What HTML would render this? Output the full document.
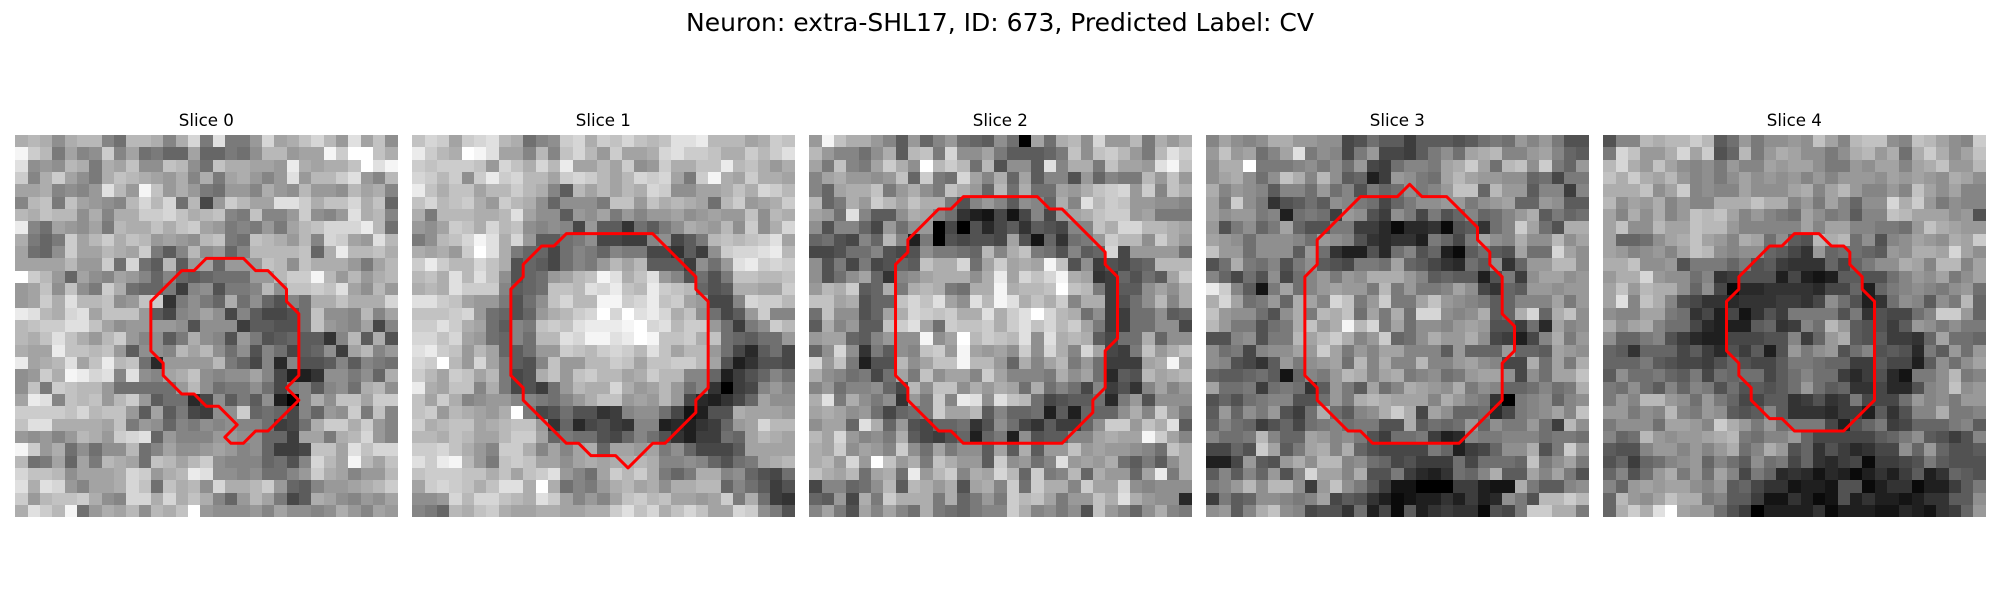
<!DOCTYPE html>
<html><head><meta charset="utf-8"><title>Neuron slices</title>
<style>html,body{margin:0;padding:0;background:#fff}svg{display:block}text{font-family:"DejaVu Sans","Liberation Sans",sans-serif;fill:#000}</style>
</head><body>
<svg id="fig" xmlns="http://www.w3.org/2000/svg" width="2000" height="600" viewBox="0 0 2000 600">
<rect width="2000" height="600" fill="#fff"/>
<text x="1000" y="31" font-size="25" text-anchor="middle">Neuron: extra-SHL17, ID: 673, Predicted Label: CV</text>
</svg>
<script>
const sliceLabels = ["Slice 0","Slice 1","Slice 2","Slice 3","Slice 4"];
const slice0 = [
[17,18,17,14,17,18,18,13,11,18,18,17,13,17,21,12,22,12,12,15,21,16,17,19,21,18,15,22,16,19,14],
[24,20,18,12,16,13,14,20,13,16,11,12,10,10,16,10,10,12,11,14,18,18,15,16,16,24,20,25,25,19,17],
[22,14,15,14,18,17,12,17,16,19,14,14,19,18,14,11,19,17,17,16,16,15,23,17,16,17,17,19,25,22,24],
[20,13,17,20,16,14,12,17,19,18,17,16,15,17,13,17,12,16,17,15,13,15,22,15,18,18,20,22,15,13,18],
[16,16,17,13,14,13,15,22,18,15,24,19,15,17,15,12,11,15,15,13,17,15,14,18,15,15,14,18,16,17,13],
[13,18,19,12,19,16,15,14,13,18,21,18,21,11,18,7,15,20,18,16,16,22,22,20,17,19,19,21,17,19,10],
[18,17,19,18,18,14,17,13,17,17,20,20,21,19,17,18,19,13,12,19,13,13,15,20,14,13,15,22,17,18,13],
[23,13,11,16,15,14,16,12,18,17,17,19,17,19,20,16,15,12,13,12,15,12,16,18,19,21,21,21,23,18,11],
[17,12,10,12,20,16,18,20,17,19,18,15,16,15,14,18,19,12,11,19,18,17,15,18,13,21,20,16,15,22,18],
[16,11,10,14,20,16,16,18,17,16,20,12,9,13,18,14,15,10,13,18,18,18,18,19,10,17,23,18,18,19,17],
[16,16,16,16,18,15,15,20,11,21,11,9,18,9,15,16,10,15,15,15,19,18,14,19,17,17,17,15,12,16,18],
[25,20,18,15,10,16,14,13,16,15,13,10,13,10,9,10,11,11,11,15,15,18,20,20,24,18,15,18,15,17,18],
[15,16,19,14,19,14,12,20,17,11,10,10,12,6,13,14,8,12,12,13,18,14,19,19,20,19,22,16,14,18,15],
[15,16,20,17,22,18,18,19,14,15,19,20,5,12,14,12,10,17,11,14,10,8,13,11,17,17,19,17,17,17,21],
[23,22,18,17,21,22,16,19,19,19,15,9,7,13,14,16,14,7,13,9,7,7,8,11,19,14,14,13,18,13,16],
[18,19,20,20,22,22,19,16,14,15,15,15,15,14,8,14,14,14,6,9,9,8,8,11,19,15,14,13,16,7,13],
[18,17,19,22,19,17,15,18,20,15,13,14,9,12,17,14,13,8,15,12,8,9,10,9,9,5,13,18,9,17,8],
[17,16,16,23,19,19,18,19,15,9,14,14,13,18,16,18,14,11,14,8,13,11,7,9,10,14,6,16,18,13,15],
[23,16,17,18,22,16,19,23,18,19,11,4,15,15,15,15,18,12,10,7,13,4,13,8,8,9,13,9,13,12,11],
[14,15,20,17,24,23,21,22,13,22,14,13,16,17,19,14,13,14,14,16,13,7,3,3,5,14,14,12,14,10,17],
[14,19,12,20,19,18,18,15,11,11,11,11,11,15,18,14,11,12,12,14,11,7,12,13,9,13,14,11,17,18,14],
[16,23,22,13,19,18,19,15,18,20,15,9,11,11,4,7,14,9,12,9,14,3,0,13,17,14,19,19,16,20,20],
[20,20,20,20,19,21,18,19,19,15,9,16,9,12,7,6,14,14,20,10,11,10,7,13,10,15,14,20,12,19,13],
[19,22,22,17,17,17,17,16,19,12,15,14,10,13,12,14,13,14,13,13,11,6,7,11,17,20,20,17,20,15,13],
[15,14,15,13,15,18,17,15,20,21,22,10,15,13,13,13,15,15,14,14,10,10,6,16,16,12,17,18,21,15,13],
[24,20,15,17,11,14,11,14,14,18,11,13,16,14,14,15,16,15,13,14,10,6,6,7,19,19,16,22,19,21,21],
[18,11,12,16,10,16,12,18,17,16,11,19,18,16,18,20,14,13,13,13,10,11,8,13,21,18,16,24,18,16,19],
[21,19,19,18,14,16,16,16,17,21,20,15,17,18,23,22,14,14,13,14,11,11,13,15,20,17,16,13,15,15,18],
[22,17,22,21,15,13,16,16,17,21,19,11,19,17,18,14,21,17,17,18,20,15,10,9,13,15,15,16,17,18,20],
[20,15,18,19,19,20,17,14,13,21,21,17,21,17,19,17,13,10,15,18,16,12,7,9,17,16,14,13,15,14,16],
[17,22,20,18,24,11,15,17,16,18,14,18,17,19,25,15,14,14,14,15,13,16,14,14,13,14,17,15,13,16,15]
];
const slice1 = [
[19,21,20,16,20,21,22,18,17,11,13,14,20,21,17,20,19,21,19,18,19,22,22,23,18,18,18,16,17,20,19],
[23,20,18,17,25,24,22,16,16,13,18,13,19,21,18,15,20,16,16,17,21,22,20,20,19,17,17,20,18,20,22],
[20,19,20,20,20,19,15,21,19,17,21,18,23,16,16,18,16,20,14,15,20,17,17,19,19,23,18,19,17,15,17],
[21,20,18,20,14,20,23,20,21,18,18,16,20,21,20,18,16,18,21,20,21,16,12,20,24,17,16,20,17,17,16],
[23,19,17,19,19,16,18,18,20,18,17,13,9,18,16,18,16,18,17,21,20,14,14,16,16,17,19,17,21,20,18],
[19,21,18,19,20,17,15,20,18,17,14,10,14,14,14,12,19,19,15,19,17,18,17,16,11,18,20,15,16,17,20],
[17,12,18,18,18,17,17,18,22,16,14,14,9,15,14,16,12,15,13,15,15,16,14,15,16,15,15,19,14,18,17],
[15,14,16,20,19,17,21,18,19,14,13,14,13,7,15,9,9,5,11,9,12,14,17,16,15,18,14,20,14,17,21],
[12,14,18,19,21,24,22,17,21,15,9,9,11,12,14,7,7,6,6,13,14,7,9,12,18,19,18,19,20,22,16],
[17,16,17,15,20,25,22,17,12,10,10,7,11,13,12,10,13,12,12,7,7,5,9,6,14,20,21,21,22,23,18],
[20,23,20,18,18,21,19,17,8,10,9,7,11,13,12,15,18,16,18,9,9,9,6,14,11,15,22,23,20,21,20],
[18,19,17,22,18,22,19,14,8,10,11,15,16,18,19,24,22,17,19,22,15,13,8,11,8,12,19,19,18,18,19],
[17,18,17,22,20,20,20,13,9,10,11,19,19,18,22,21,23,19,18,23,20,19,18,10,8,9,17,17,16,16,20],
[22,22,20,19,16,15,15,12,8,11,14,19,21,18,18,24,24,20,21,23,19,20,16,15,7,7,13,21,20,20,18],
[19,19,19,20,21,15,11,10,8,10,15,17,18,20,21,25,21,25,22,23,21,17,19,14,11,7,9,15,20,13,13],
[20,20,22,20,17,16,11,9,13,12,19,20,19,22,23,23,23,24,25,21,22,18,20,20,15,11,6,12,14,20,18],
[21,21,19,21,16,15,11,10,13,11,18,18,22,21,24,24,22,23,25,24,19,19,20,17,19,11,10,9,11,11,15],
[22,23,20,19,15,18,16,10,9,11,15,15,20,19,18,20,21,20,18,22,19,16,18,18,15,11,7,4,9,11,7],
[21,20,25,18,15,21,16,12,9,8,13,19,15,15,18,18,20,19,16,19,19,20,20,18,16,8,3,5,8,8,7],
[20,18,16,20,19,16,18,12,7,8,17,19,15,19,20,18,18,16,17,20,18,18,13,13,10,3,6,8,10,13,11],
[23,17,16,19,19,13,17,12,7,8,6,11,15,18,17,17,21,17,15,16,18,15,11,13,5,0,6,7,13,15,13],
[19,16,20,17,13,14,15,15,13,13,12,11,13,15,17,19,19,15,16,15,18,15,7,4,3,5,7,10,16,14,14],
[19,20,15,18,17,16,15,17,25,12,7,8,11,8,8,5,6,13,14,14,11,7,2,3,8,8,17,16,16,16,15],
[20,17,18,19,19,16,17,18,19,19,15,5,10,4,7,8,6,5,13,13,3,4,3,5,6,10,15,16,21,18,18],
[18,18,17,19,18,16,16,18,20,20,16,10,12,11,11,8,7,10,13,11,8,5,3,6,6,11,10,16,18,17,16],
[20,20,21,19,17,15,13,20,20,17,13,16,13,16,17,10,16,16,15,16,12,14,10,7,7,7,9,16,16,16,16],
[22,20,23,24,18,15,12,19,20,19,16,16,14,16,17,16,17,17,18,17,13,13,14,13,10,8,11,12,16,17,18],
[19,20,20,20,19,19,17,19,16,19,20,22,15,13,11,16,20,18,20,17,12,10,12,17,17,13,14,10,8,7,11],
[16,20,21,20,19,17,19,22,22,17,25,17,11,13,12,15,17,18,16,17,14,17,17,18,18,10,13,11,9,6,8],
[14,14,15,21,18,21,21,19,18,17,22,20,16,13,15,13,16,19,20,18,19,16,16,15,16,20,12,17,11,6,5],
[13,12,10,18,17,19,20,17,16,16,17,17,16,16,17,17,20,22,19,21,17,19,21,19,16,16,21,20,14,12,8]
];
const slice2 = [
[15,24,19,17,17,15,13,9,15,10,13,15,11,10,9,14,11,0,16,11,17,18,14,21,15,15,18,12,17,15,17],
[18,15,13,13,11,14,17,9,18,19,12,21,14,14,16,12,9,9,9,10,12,19,14,19,20,18,15,12,18,22,20],
[16,12,19,13,12,16,20,17,14,25,18,20,18,11,18,8,14,14,9,22,13,17,17,12,19,16,16,15,22,24,19],
[13,16,17,15,15,14,15,19,10,20,12,11,21,16,13,17,10,16,9,13,13,8,15,10,13,12,12,18,15,19,15],
[13,10,16,17,17,19,12,15,17,14,12,19,17,15,10,18,11,17,11,11,16,15,17,19,20,21,15,20,13,19,17],
[18,10,12,17,15,20,18,16,19,17,17,12,8,13,15,13,9,14,13,10,17,13,22,18,20,19,15,15,14,14,13],
[16,15,11,22,13,9,9,14,17,16,13,11,5,3,2,7,2,7,13,7,15,16,17,19,20,20,15,16,12,12,12],
[14,8,13,13,10,7,15,11,14,15,0,7,0,8,4,7,9,5,9,8,7,13,13,19,17,21,21,18,18,17,16],
[10,11,8,7,13,10,18,13,3,12,0,8,7,8,8,7,16,8,2,10,5,11,12,15,20,18,18,14,20,17,15],
[7,7,8,11,11,13,8,7,8,14,12,12,11,10,18,13,17,19,12,11,8,13,9,10,21,7,15,15,15,15,11],
[14,8,12,7,12,7,8,10,9,19,17,17,21,11,16,20,16,17,16,24,19,8,14,6,8,7,9,10,18,18,18],
[14,8,11,14,16,10,5,13,14,16,17,17,17,14,17,23,16,21,19,21,24,17,16,5,6,10,8,11,9,16,20],
[15,18,17,20,9,10,17,12,17,18,17,12,11,17,17,24,17,18,18,19,25,19,18,12,6,9,9,14,16,14,17],
[19,19,16,17,8,10,10,19,21,19,22,16,14,22,18,24,22,17,19,17,20,13,17,17,6,8,11,14,18,13,17],
[11,19,14,14,8,10,16,17,21,20,19,20,17,17,22,17,20,22,25,21,18,17,11,14,6,6,11,11,14,9,10],
[9,17,13,15,9,9,19,20,22,16,11,20,19,19,20,17,20,22,19,21,18,20,16,12,6,6,11,11,14,14,7],
[15,16,16,10,9,13,15,14,14,24,14,16,25,18,20,19,18,22,14,22,17,18,17,9,7,11,11,17,10,14,14],
[10,14,21,14,5,12,9,14,13,19,20,15,24,16,15,16,14,20,14,21,17,13,21,16,7,6,12,19,15,17,19],
[21,15,19,12,3,8,8,18,14,16,19,19,24,18,18,15,10,17,13,16,18,12,15,11,6,6,6,16,17,24,16],
[17,14,13,11,12,7,11,16,12,19,14,16,16,13,20,16,13,13,13,12,17,14,16,11,4,9,8,18,16,17,18],
[13,15,11,13,13,14,10,7,18,14,19,19,14,17,15,17,16,11,17,11,13,11,7,13,6,8,5,13,16,13,15],
[17,22,12,17,14,12,14,5,15,12,20,13,23,22,14,22,19,18,11,7,8,9,9,11,4,12,15,8,14,14,14],
[16,17,16,14,15,11,7,10,11,12,20,16,16,18,9,13,10,10,11,3,9,3,10,10,10,14,17,13,20,15,12],
[14,16,16,10,22,17,10,15,8,7,10,10,11,5,8,14,11,7,5,9,6,6,10,14,20,20,15,19,17,22,9],
[18,16,21,15,13,14,12,17,9,7,6,8,10,3,10,12,3,14,8,9,9,13,13,16,17,16,16,24,20,16,13],
[17,16,20,14,16,15,13,20,14,11,16,12,14,14,9,16,9,17,9,15,15,19,15,16,15,15,14,13,11,19,17],
[17,18,15,21,15,25,19,15,17,12,19,17,15,15,9,20,14,15,11,13,22,15,16,15,17,11,9,12,9,14,17],
[19,17,16,18,11,16,17,11,23,15,18,20,13,17,16,21,18,10,20,12,13,18,10,17,15,15,10,16,23,12,17],
[7,13,13,10,11,14,18,9,18,17,15,17,8,16,17,13,20,11,20,17,17,13,20,16,16,21,14,13,14,14,14],
[10,9,15,7,17,12,20,17,17,17,12,17,10,12,15,12,20,18,19,16,12,15,15,19,17,22,17,15,14,14,4],
[13,16,12,8,16,13,16,13,11,17,12,11,10,12,13,13,20,17,13,14,12,14,8,19,15,13,10,14,17,13,12]
];
const slice3 = [
[13,16,14,13,14,17,17,15,15,14,14,7,8,11,9,9,6,9,9,9,8,9,11,12,11,15,13,15,12,8,8],
[15,19,15,16,11,13,16,22,12,14,13,7,12,15,7,7,6,9,12,14,11,16,17,18,13,13,15,16,13,10,9],
[14,17,17,25,12,12,12,13,14,12,14,11,15,7,6,11,13,13,12,16,17,20,16,11,18,19,14,20,12,10,15],
[14,16,17,14,11,14,19,17,13,18,14,9,10,3,6,15,14,12,11,16,18,16,15,15,14,14,10,11,7,12,12],
[17,13,15,14,13,9,13,13,11,15,11,13,8,12,10,11,14,12,13,15,19,19,10,18,15,15,9,13,13,6,13],
[16,12,20,14,12,5,8,9,11,9,14,13,12,11,7,10,12,14,14,15,15,12,14,15,16,10,10,15,14,9,9],
[16,14,15,15,12,13,3,11,12,11,6,15,14,8,6,14,12,7,12,8,10,13,10,11,13,15,17,9,12,10,11],
[15,8,12,14,10,12,16,10,8,8,12,12,6,6,4,1,4,4,5,1,8,9,5,11,13,20,16,11,8,17,17],
[16,15,14,11,14,14,14,13,11,15,14,13,8,5,4,5,5,3,12,10,7,12,16,14,13,17,14,14,18,14,16],
[19,15,15,11,14,14,14,9,15,11,5,3,3,8,4,11,13,8,10,3,1,9,11,9,8,16,11,11,21,16,14],
[8,11,17,12,11,13,8,12,14,9,8,7,12,12,11,16,10,9,7,5,4,11,9,14,5,10,15,15,18,18,14],
[13,10,7,11,8,14,7,11,13,15,12,15,14,17,17,17,15,13,9,10,9,9,3,8,12,6,14,16,16,14,15],
[23,20,13,9,2,12,16,11,13,15,16,15,15,12,18,12,15,12,12,13,16,14,7,5,10,9,15,15,14,15,15],
[17,21,16,11,12,15,10,17,16,13,21,19,12,15,20,12,12,16,19,15,14,13,12,9,10,13,13,13,16,12,15],
[19,15,14,14,11,8,14,17,12,18,17,19,11,16,12,17,11,21,21,14,13,14,17,9,10,17,21,10,17,19,14],
[18,15,12,12,8,11,12,17,19,15,17,24,18,21,12,16,11,14,14,13,15,16,15,8,8,6,11,4,16,13,14],
[8,8,13,14,8,12,12,18,16,18,20,17,13,15,20,10,11,14,17,15,15,17,14,7,6,3,7,13,17,12,15],
[14,11,12,7,13,14,14,16,15,20,16,12,15,13,16,16,13,13,13,9,15,10,10,10,15,10,10,9,16,15,14],
[14,13,8,7,5,9,15,12,14,15,16,11,18,13,17,13,13,18,13,13,15,16,14,13,7,7,17,11,16,12,17],
[10,9,9,10,11,9,2,10,13,12,15,18,17,13,16,17,12,13,14,11,12,15,16,16,14,7,14,11,16,16,19],
[16,11,11,12,6,11,12,11,5,9,15,12,9,16,11,13,17,16,15,14,17,12,14,13,10,10,11,13,11,12,17],
[8,10,8,11,12,13,13,8,8,11,15,12,17,18,17,16,16,16,13,17,15,13,12,5,0,12,13,14,10,13,14],
[9,15,10,14,12,15,8,6,11,17,11,9,13,14,17,20,17,7,16,14,10,10,11,4,7,12,13,14,16,13,19],
[10,13,11,10,6,8,10,7,11,12,13,11,12,12,8,8,17,9,11,10,11,15,10,14,12,12,15,11,6,18,14],
[13,11,11,12,18,13,10,10,16,15,13,14,12,8,6,11,11,12,6,3,4,13,12,12,13,13,13,11,12,12,11],
[7,7,10,8,20,16,9,12,16,17,13,17,10,8,7,7,7,7,12,10,3,6,7,10,14,14,17,8,12,20,15],
[3,3,7,15,9,8,15,17,14,18,18,13,14,11,10,7,8,6,6,6,11,7,11,11,11,10,19,12,14,16,12],
[9,13,9,13,10,15,8,13,21,16,16,13,17,8,8,12,6,4,3,5,11,10,13,17,9,9,16,13,16,12,8],
[12,13,15,18,14,18,18,14,6,15,19,14,12,9,6,2,2,0,0,0,6,6,3,2,2,17,12,9,9,13,14],
[6,12,9,10,14,14,13,12,13,16,7,9,8,5,3,1,2,3,3,5,3,6,3,4,14,12,8,18,18,20,18],
[14,15,9,13,17,19,14,13,7,8,8,5,11,3,7,1,9,3,5,6,5,5,1,8,7,12,20,20,17,17,12]
];
const slice4 = [
[8,13,13,18,17,18,18,20,18,9,11,15,12,14,14,15,14,19,16,13,18,19,19,14,13,19,18,16,14,13,20],
[12,21,19,15,15,17,21,16,20,8,10,18,12,15,17,16,14,14,12,14,17,18,15,17,11,17,20,17,14,16,19],
[18,21,17,15,19,16,14,13,14,12,15,13,13,16,15,16,16,14,12,12,15,14,16,16,13,16,17,19,15,15,18],
[19,17,20,17,16,18,15,13,14,12,14,16,14,15,14,15,13,15,13,15,15,15,14,16,15,16,15,14,17,16,14],
[17,17,17,19,14,16,20,13,14,13,13,16,14,14,14,16,17,13,16,18,15,13,13,15,13,19,16,14,16,13,13],
[18,14,16,15,17,13,15,13,13,17,17,17,19,17,17,13,15,12,16,13,10,14,14,21,17,20,15,12,14,13,13],
[16,13,17,14,17,13,15,19,18,19,16,13,15,13,12,11,16,14,12,13,9,13,13,19,18,16,16,16,14,15,8],
[16,19,14,14,18,16,16,19,18,18,15,13,13,13,13,13,16,13,16,16,13,13,12,12,11,15,19,17,16,15,15],
[16,10,10,11,14,16,17,19,16,15,13,17,16,11,14,9,8,18,17,18,11,14,8,13,14,16,15,14,17,16,20],
[16,15,13,14,15,13,16,19,18,14,13,14,14,10,9,7,5,15,10,11,11,10,9,15,14,17,17,16,21,16,14],
[17,17,19,14,14,15,8,12,12,12,10,12,8,9,6,5,5,5,10,7,10,12,14,14,17,16,13,18,18,13,16],
[15,17,17,21,15,14,14,11,13,5,6,8,8,8,3,7,3,2,3,9,9,8,8,11,13,15,14,16,12,14,16],
[16,19,15,18,17,17,14,10,14,7,1,4,4,5,5,5,5,4,7,7,10,3,10,12,13,14,13,12,14,15,11],
[16,22,13,19,17,13,8,7,5,5,4,5,5,5,6,6,5,7,14,11,8,3,5,11,14,13,9,14,12,18,10],
[14,13,13,16,16,12,11,5,7,3,7,2,5,8,6,12,12,12,12,8,12,5,8,7,7,11,13,20,20,15,10],
[17,14,16,17,13,11,11,7,4,3,3,3,9,10,5,6,13,11,18,15,9,8,8,6,9,15,14,12,14,12,12],
[14,10,10,12,13,8,6,4,3,3,7,7,7,8,8,13,6,10,15,17,9,8,9,6,6,5,10,16,11,11,10],
[10,9,5,10,10,10,7,9,6,4,8,6,9,3,8,15,12,14,15,8,11,13,8,9,8,4,12,9,15,11,15],
[10,10,10,12,9,8,7,7,6,8,10,8,7,7,9,12,12,11,10,10,6,6,9,7,7,3,9,14,11,14,16],
[9,14,11,11,12,10,9,12,7,11,10,11,11,7,9,11,13,11,11,6,4,6,8,4,2,12,12,14,18,12,13],
[12,11,14,11,9,13,10,13,12,8,11,8,9,8,9,11,15,11,9,10,5,5,7,4,4,8,13,14,19,14,15],
[12,15,13,18,18,15,14,11,15,12,10,7,7,9,9,5,6,8,5,6,12,7,7,7,11,15,13,14,12,15,15],
[15,15,12,14,13,18,13,12,15,14,9,8,9,13,9,5,5,5,4,6,6,3,9,5,8,13,13,17,12,12,13],
[12,14,14,14,11,16,16,15,13,20,17,15,12,15,11,12,12,12,7,3,8,10,12,6,7,10,10,10,12,13,9],
[13,10,11,18,15,14,15,15,16,17,18,12,11,13,13,15,10,7,7,7,7,7,9,10,12,14,9,8,6,8,13],
[9,8,8,13,15,15,13,15,13,15,17,11,13,17,15,8,10,5,8,6,4,5,7,7,14,10,15,10,8,8,9],
[8,10,6,10,11,13,14,15,10,13,11,9,14,11,12,7,10,5,4,6,7,1,6,6,7,8,12,9,8,8,8],
[10,13,8,11,15,17,12,15,11,16,13,7,12,10,4,5,4,2,4,3,1,3,5,3,6,9,3,5,10,9,8],
[13,10,15,16,15,16,16,14,13,15,9,10,7,5,5,2,3,3,2,8,8,1,3,5,5,1,3,3,6,9,12],
[10,18,15,14,16,19,17,17,12,13,9,9,6,2,2,5,3,1,2,8,3,5,3,3,2,3,5,5,9,9,14],
[10,17,20,17,22,25,16,15,15,11,8,6,0,3,3,3,3,5,1,3,3,3,2,2,4,3,2,5,6,10,15]
];
const sliceValues = [slice0, slice1, slice2, slice3, slice4];
const contour0 = [[15.5,10],[18.5,10],[19.5,11],[20.5,11],[22,12.5],[22,13.5],[23,14.5],[23,19.5],[22,20.5],[23,21.5],[20.5,24],[19.5,24],[18.5,25],[17.5,25],[17,24.5],[18,23.5],[16.5,22],[15.5,22],[14.5,21],[13.5,21],[12,19.5],[12,18.5],[11,17.5],[11,13.5],[13.5,11],[14.5,11]];
const contour1 = [[12.5,8],[19.5,8],[23,11.5],[23,12.5],[24,13.5],[24,20.5],[23,21.5],[23,22.5],[20.5,25],[19.5,25],[17.5,27],[16.5,26],[14.5,26],[13.5,25],[12.5,25],[9,21.5],[9,20.5],[8,19.5],[8,12.5],[9,11.5],[9,10.5],[10.5,9],[11.5,9]];
const contour2 = [[12.5,5],[18.5,5],[19.5,6],[20.5,6],[24,9.5],[24,10.5],[25,11.5],[25,16.5],[24,17.5],[24,20.5],[23,21.5],[23,22.5],[20.5,25],[12.5,25],[11.5,24],[10.5,24],[8,21.5],[8,20.5],[7,19.5],[7,10.5],[8,9.5],[8,8.5],[10.5,6],[11.5,6]];
const contour3 = [[12.5,5],[15.5,5],[16.5,4],[17.5,5],[19.5,5],[22,7.5],[22,8.5],[23,9.5],[23,10.5],[24,11.5],[24,14.5],[25,15.5],[25,17.5],[24,18.5],[24,21.5],[20.5,25],[13.5,25],[12.5,24],[11.5,24],[9,21.5],[9,20.5],[8,19.5],[8,11.5],[9,10.5],[9,8.5]];
const contour4 = [[15.5,8],[17.5,8],[18.5,9],[19.5,9],[20,9.5],[20,10.5],[21,11.5],[21,12.5],[22,13.5],[22,21.5],[19.5,24],[15.5,24],[14.5,23],[13.5,23],[12,21.5],[12,20.5],[11,19.5],[11,18.5],[10,17.5],[10,13.5],[11,12.5],[11,11.5],[13.5,9],[14.5,9]];
const contours = [contour0, contour1, contour2, contour3, contour4];

const NS = "http://www.w3.org/2000/svg";
const fig = document.getElementById("fig");
const panelLeft = i => 15.2 + 397 * i;
const panelTop = 135, panelSize = 382.3, gridSize = 31, valueMax = 25;
const xScale = (i, v) => panelLeft(i) + v / gridSize * panelSize;
const yScale = v => panelTop + v / gridSize * panelSize;
const grayScale = v => { const g = Math.round(v / valueMax * 255); return "rgb(" + g + "," + g + "," + g + ")"; };

sliceValues.forEach((rows, i) => {
  const g = document.createElementNS(NS, "g");
  
  
  g.setAttribute("shape-rendering", "crispEdges");
  rows.forEach((row, r) => {
    row.forEach((v, c) => {
      const cell = document.createElementNS(NS, "rect");
      const x0 = Math.round(xScale(i, c)), x1 = Math.round(xScale(i, c + 1));
      const y0 = Math.round(yScale(r)), y1 = Math.round(yScale(r + 1));
      cell.setAttribute("x", x0);
      cell.setAttribute("y", y0);
      cell.setAttribute("width", x1 - x0);
      cell.setAttribute("height", y1 - y0);
      cell.setAttribute("fill", grayScale(v));
      
      
      g.appendChild(cell);
    });
  });
  fig.appendChild(g);

  const title = document.createElementNS(NS, "text");
  title.setAttribute("x", panelLeft(i) + panelSize / 2);
  title.setAttribute("y", 126);
  title.setAttribute("font-size", "16.67");
  title.setAttribute("text-anchor", "middle");
  
  
  title.textContent = sliceLabels[i];
  fig.appendChild(title);

  const line = document.createElementNS(NS, "polygon");
  line.setAttribute("points", contours[i].map(p => xScale(i, p[0]).toFixed(2) + "," + yScale(p[1]).toFixed(2)).join(" "));
  line.setAttribute("fill", "none");
  line.setAttribute("stroke", "#ff0000");
  line.setAttribute("stroke-width", "3");
  line.setAttribute("stroke-linejoin", "round");
  
  
  fig.appendChild(line);
});
</script>
</body></html>
